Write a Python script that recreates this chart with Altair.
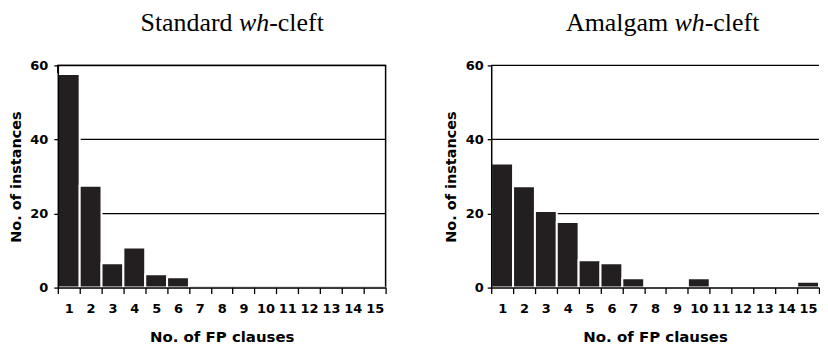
import altair as alt
import pandas as pd

fp_clauses = list(range(1, 16))
standard_counts = [57.7, 27.5, 6.6, 10.8, 3.6, 2.8, 0, 0, 0, 0, 0, 0, 0, 0, 0]
amalgam_counts = [33.5, 27.4, 20.7, 17.7, 7.4, 6.6, 2.5, 0, 0.45, 2.5, 0, 0.3, 0, 0, 1.6]
y_ticks = [0, 20, 40, 60]
grid_values = [20, 40, 60]

LABEL_FONT = "DejaVu Sans"
TITLE_FONT = "Liberation Serif"
BAR_COLOR = "#231f20"


def panel(counts, title_parts, width, height, title_x, label_pad, ytitle_x, framed):
    df = pd.DataFrame({"fp": fp_clauses, "n": counts})
    base = alt.Chart(df)
    xenc = alt.X(
        "fp:O",
        scale=alt.Scale(paddingInner=0, paddingOuter=0),
        axis=alt.Axis(
            title="No. of FP clauses",
            labelAngle=0,
            tickBand="extent",
            tickSize=6,
            labelPadding=9.5,
            titlePadding=14,
            labelFont=LABEL_FONT,
            labelFontWeight="bold",
            labelFontSize=13,
            titleFont=LABEL_FONT,
            titleFontWeight="bold",
            titleFontSize=15,
            labelColor="black",
            titleColor="black",
            domainColor="black",
            tickColor="black",
            domainWidth=1.5,
            tickWidth=1.3,
            grid=False,
            zindex=1,
        ),
    )
    yenc = alt.Y(
        "n:Q",
        scale=alt.Scale(domain=[0, 60], nice=False),
        axis=alt.Axis(
            title="No. of instances",
            values=y_ticks,
            tickSize=4,
            labelPadding=label_pad,
            titleX=ytitle_x,
            labelFont=LABEL_FONT,
            labelFontWeight="bold",
            labelFontSize=13,
            titleFont=LABEL_FONT,
            titleFontWeight="bold",
            titleFontSize=14.5,
            labelColor="black",
            titleColor="black",
            domainColor="black",
            tickColor="black",
            domainWidth=1.5,
            tickWidth=1.3,
            grid=False,
            zindex=1,
        ),
    )
    grid = alt.Chart(pd.DataFrame({"g": grid_values})).mark_rule(
        color="black", strokeWidth=1.3
    ).encode(
        y=alt.Y("g:Q"),
        x=alt.value(0),
        x2=alt.value(width),
    )
    bars = base.mark_bar(color=BAR_COLOR, stroke="white", strokeWidth=2).encode(
        x=xenc, y=yenc
    )
    layers = [grid, bars]
    xpos = title_x
    for text, style, w in title_parts:
        t = alt.Chart(alt.Data(values=[{"t": text}])).mark_text(
            font=TITLE_FONT,
            fontSize=26,
            fontStyle=style,
            align="left",
            baseline="alphabetic",
            color="black",
        ).encode(x=alt.value(xpos), y=alt.value(-35), text="t:N")
        layers.append(t)
        xpos += w
    props = dict(width=width, height=height)
    if framed:
        props["view"] = alt.ViewBackground(stroke="black", strokeWidth=1.5)
    else:
        props["view"] = alt.ViewBackground(strokeWidth=0)
    return alt.layer(*layers).properties(**props)


left = panel(
    standard_counts,
    [("Standard ", "normal", 98.9), ("wh", "italic", 30.3), ("-cleft", "normal", 55)],
    329, 223, 83, 6, -34, True,
)
right = panel(
    amalgam_counts,
    [("Amalgam ", "normal", 109.0), ("wh", "italic", 30.3), ("-cleft", "normal", 55)],
    329, 223, 75, 4, -33, False,
)

chart = alt.hconcat(left, right, spacing=56).resolve_scale(y="independent").configure(
    padding={"left": 0, "top": 0, "right": 0, "bottom": 0},
).configure_view(stroke=None)

chart.save("out.html", embed_options={"renderer": "svg", "actions": False})
